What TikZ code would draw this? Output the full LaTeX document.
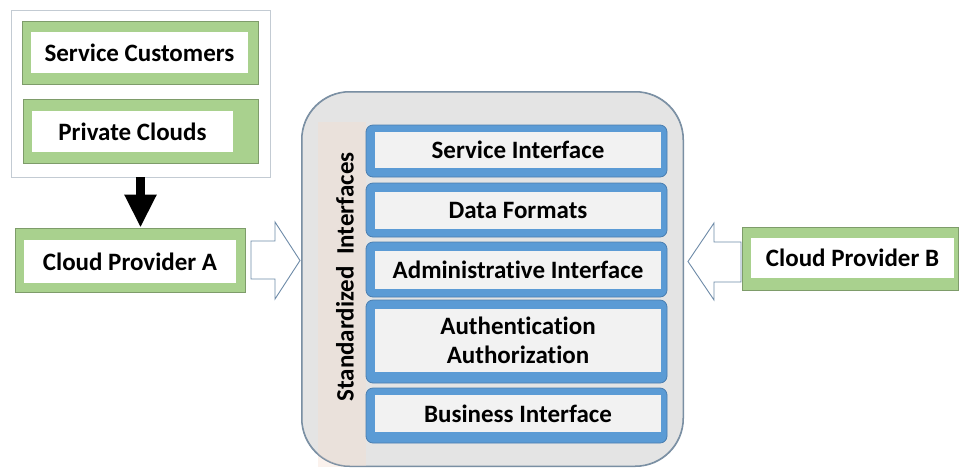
\documentclass[tikz,border=0pt]{standalone}
\usepackage{fontspec}
\setmainfont{Carlito}[Ligatures=NoCommon]
\usetikzlibrary{arrows.meta}

\definecolor{grnfill}{HTML}{A9D18E}
\definecolor{grnline}{HTML}{7E9C6A}
\definecolor{bluefill}{HTML}{5B9BD5}
\definecolor{blueline}{HTML}{4A7EB0}
\definecolor{panelfill}{HTML}{E4E4E4}
\definecolor{panelline}{HTML}{7A8FA3}
\definecolor{innerfill}{HTML}{F2F2F2}
\definecolor{stripfill}{HTML}{F6DCCD}
\definecolor{hollowline}{HTML}{6E8BA8}
\definecolor{groupline}{HTML}{C3CBD3}

\tikzset{
  grnbox/.style={draw=grnline, line width=0.8pt, fill=grnfill, inner sep=0pt},
  whitebox/.style={fill=white, inner sep=0pt, font=\bfseries\fontsize{25}{27}\selectfont},
  bluebox/.style={draw=blueline, line width=0.8pt, fill=bluefill, rounded corners=7pt, inner sep=0pt},
  graybox/.style={fill=innerfill, inner sep=0pt, align=center, font=\bfseries\fontsize{25}{29}\selectfont},
  hollow/.style={draw=hollowline, line width=0.9pt, fill=white, line join=miter},
  blackarrow/.style={line width=9pt, -{Triangle[width=30pt,length=33pt]}},
}

\begin{document}
\begin{tikzpicture}[x=1pt, y=-1pt]
\useasboundingbox (0,0) rectangle (961,467);
\fill[white] (0,0) rectangle (961,467);

% customer group at the top left
\node[draw=groupline, line width=0.8pt, fill=white, minimum width=259pt, minimum height=167pt, inner sep=0pt] (grp) at (140.5,93.5) {};
\node[grnbox, minimum width=236pt, minimum height=63pt] (scg) at (140,52.5) {};
\node[whitebox, minimum width=217pt, minimum height=41pt] (sc) at (139.5,52.5) {Service Customers};
\node[grnbox, minimum width=235pt, minimum height=64pt] (pcg) at (140.5,131) {};
\node[whitebox, minimum width=201pt, minimum height=41pt] (pc) at (132.5,131.5) {Private Clouds};

% cloud provider A
\node[grnbox, minimum width=230pt, minimum height=64pt] (cpag) at (130,260) {};
\node[whitebox, minimum width=212pt, minimum height=43pt] (cpa) at (130,261.5) {Cloud Provider A};

% cloud provider B
\node[grnbox, minimum width=216pt, minimum height=63pt] (cpbg) at (850,258.5) {};
\node[whitebox, minimum width=203pt, minimum height=40pt] (cpb) at (852.5,258) {Cloud Provider B};

% black arrow from the customer group down to provider A
\draw[blackarrow] (grp.south) -- (grp.south |- cpag.north);

% central panel of standardized interfaces
\node[draw=panelline, line width=1pt, fill=panelfill, rounded corners=48pt, minimum width=381pt, minimum height=374pt, inner sep=0pt] (panel) at (492.5,279) {};
\fill[stripfill, opacity=0.35] (318,122) rectangle (366,467);
\draw[panelline, line width=1pt, rounded corners=48pt] (panel.north west) rectangle (panel.south east);
\node[rotate=90, font=\bfseries\fontsize{25}{27}\selectfont] (std) at (345,277) {Standardized\ \ Interfaces};

\node[bluebox, minimum width=301pt, minimum height=52pt] (b1) at (516.5,151) {};
\node[graybox, minimum width=286pt, minimum height=36pt] (t1) at (518,150) {Service Interface};
\node[bluebox, minimum width=301pt, minimum height=54pt] (b2) at (516.5,210) {};
\node[graybox, minimum width=286pt, minimum height=37pt] (t2) at (518,210.5) {Data Formats};
\node[bluebox, minimum width=301pt, minimum height=55pt] (b3) at (516.5,269.5) {};
\node[graybox, minimum width=286pt, minimum height=38pt] (t3) at (518,270) {Administrative Interface};
\node[bluebox, minimum width=301pt, minimum height=83pt] (b4) at (516.5,341.5) {};
\node[graybox, minimum width=286pt, minimum height=63pt] (t4) at (518,340.5) {Authentication\\Authorization};
\node[bluebox, minimum width=301pt, minimum height=55pt] (b5) at (516.5,415.5) {};
\node[graybox, minimum width=286pt, minimum height=37pt] (t5) at (518,413.5) {Business Interface};

% hollow block arrows pointing into the panel
\draw[hollow] (251,241) -- (275,241) -- (275,222) -- (300,260.5) -- (275,299) -- (275,279) -- (251,279) -- cycle;
\draw[hollow] (741,242) -- (714,242) -- (714,223) -- (688,261.5) -- (714,300) -- (714,282) -- (741,282) -- cycle;
\end{tikzpicture}
\end{document}
